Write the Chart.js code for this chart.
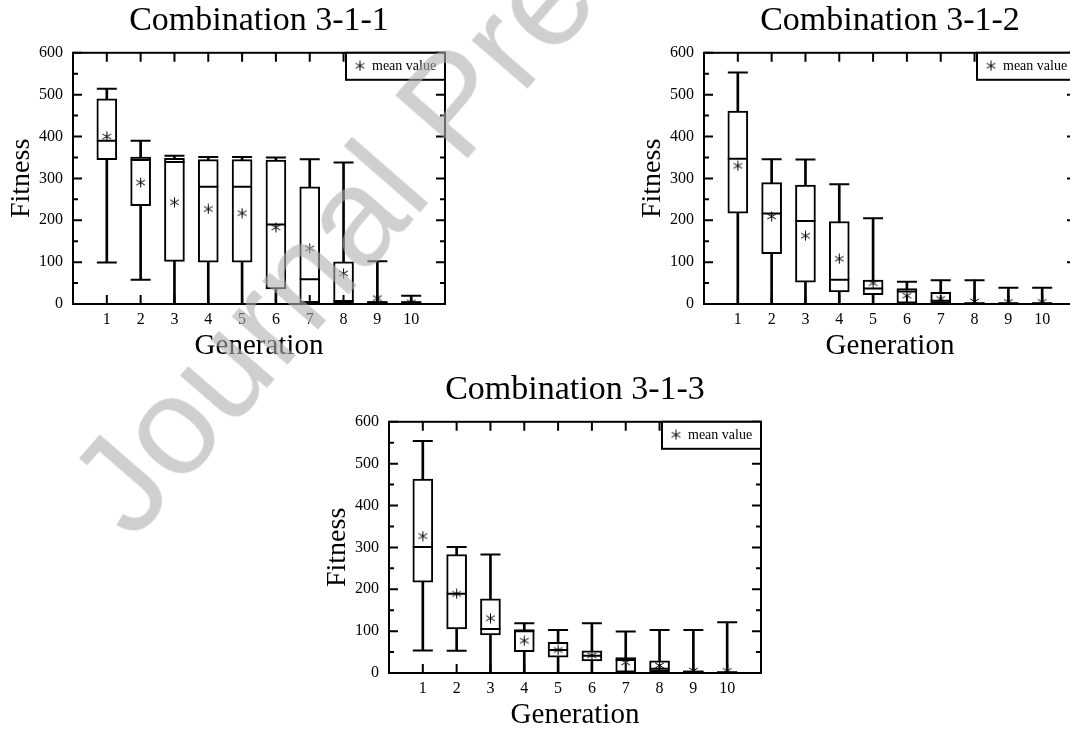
<!DOCTYPE html>
<html>
<head>
<meta charset="utf-8">
<script src="https://cdn.jsdelivr.net/npm/chart.js@4.4.1/dist/chart.umd.min.js"></script>
<style>
  html, body { margin: 0; padding: 0; background: #fff; }
  body { width: 1070px; height: 731px; position: relative; overflow: hidden; }
  canvas { position: absolute; }
  #c1 { left: 0; top: 0; }
  #c2 { left: 631px; top: 0; }
  #c3 { left: 316px; top: 369px; }
  #wm {
    position: absolute; left: 44px; top: 465px;
    font: 140px 'Liberation Sans', Arial, sans-serif; line-height: 1;
    color: rgba(175, 175, 175, 0.6); white-space: nowrap;
    transform-origin: 0 0; transform: rotate(-49deg);
    pointer-events: none;
  }
</style>
</head>
<body>
<canvas id="c1" width="460" height="365"></canvas>
<canvas id="c2" width="460" height="365"></canvas>
<canvas id="c3" width="460" height="365"></canvas>
<div id="wm">Journal Pre-proof</div>
<script>
'use strict';

const generations = [1, 2, 3, 4, 5, 6, 7, 8, 9, 10];

// Combination 3-1-1
const low1  = [99, 58, 0, 0, 0, 0, 0, 0, 0, 0];
const q1_1  = [345, 235, 102, 100, 100, 36, 3, 3, 2, 2];
const med1  = [390, 344, 339, 280, 280, 190, 59, 7, 4, 4];
const q3_1  = [490, 351, 348, 345, 345, 344, 280, 101, 6, 5];
const high1 = [514, 390, 354, 351, 351, 350, 346, 338, 102, 20];
const mean1 = [400, 290, 243, 227, 217, 183, 133, 73, 14, 4];

// Combination 3-1-2
const low2  = [0, 0, 0, 0, 0, 0, 0, 0, 0, 0];
const q1_2  = [217, 120, 52, 29, 22, 2, 2, 1, 1, 1];
const med2  = [347, 216, 198, 58, 37, 30, 8, 2, 2, 2];
const q3_2  = [461, 290, 284, 197, 57, 37, 28, 3, 3, 3];
const high2 = [553, 346, 345, 286, 205, 53, 57, 57, 39, 39];
const mean2 = [330, 209, 163, 108, 50, 20, 12, 6, 5, 5];

// Combination 3-1-3
const low3  = [54, 53, 0, 0, 0, 0, 0, 0, 0, 0];
const q1_3  = [217, 105, 91, 51, 38, 29, 2, 3, 1, 1];
const med3  = [301, 189, 105, 100, 55, 41, 31, 10, 3, 2];
const q3_3  = [463, 283, 177, 104, 73, 53, 37, 29, 5, 3];
const high3 = [554, 301, 283, 119, 103, 119, 99, 103, 103, 121];
const mean3 = [327, 189, 131, 77, 55, 42, 25, 18, 6, 5];

Chart.defaults.font.family = "'Liberation Serif', 'Times New Roman', serif";
Chart.defaults.color = '#000';

function asterisk(size) {
    const c = document.createElement('canvas');
    c.width = size;
    c.height = size;
    const g = c.getContext('2d');
    const r = size / 2 - 0.5;
    g.strokeStyle = '#000';
    g.lineWidth = 1;
    g.beginPath();
    [90, 30, 150].forEach(a => {
        const dx = Math.cos(a * Math.PI / 180) * r;
        const dy = Math.sin(a * Math.PI / 180) * r;
        g.moveTo(size / 2 - dx, size / 2 - dy);
        g.lineTo(size / 2 + dx, size / 2 + dy);
    });
    g.stroke();
    return c;
}
const star = asterisk(11);

// frame with inward ticks on all four sides, plus the legend box
const framePlugin = {
    id: 'frame',
    afterDatasetsDraw(chart) {
        const {ctx, chartArea: a, scales: {x, y}} = chart;
        ctx.save();
        ctx.strokeStyle = '#000';
        ctx.lineWidth = 2;
        ctx.beginPath();
        const yt = y.ticks.map(t => t.value);
        yt.forEach((v, i) => {
            const py = y.getPixelForValue(v);
            ctx.moveTo(a.left, py); ctx.lineTo(a.left + 9, py);
            ctx.moveTo(a.right, py); ctx.lineTo(a.right - 9, py);
            if (i < yt.length - 1) {
                const pm = y.getPixelForValue((v + yt[i + 1]) / 2);
                ctx.moveTo(a.left, pm); ctx.lineTo(a.left + 5, pm);
                ctx.moveTo(a.right, pm); ctx.lineTo(a.right - 5, pm);
            }
        });
        x.ticks.forEach(t => {
            const px = x.getPixelForValue(t.value);
            ctx.moveTo(px, a.top); ctx.lineTo(px, a.top + 9);
            ctx.moveTo(px, a.bottom); ctx.lineTo(px, a.bottom - 9);
        });
        ctx.stroke();
        ctx.strokeRect(a.left, a.top, a.width, a.height);

        const meanSet = chart.data.datasets.find(d => d.isMean);
        const lw = 99, lh = 27;
        const lx = a.right - lw, ly = a.top;
        ctx.fillStyle = '#fff';
        ctx.fillRect(lx, ly, lw, lh);
        ctx.strokeRect(lx, ly, lw, lh);
        ctx.drawImage(star, lx + 14 - star.width / 2, ly + 13 - star.height / 2);
        ctx.fillStyle = '#000';
        ctx.font = "14px 'Liberation Serif', serif";
        ctx.textBaseline = 'middle';
        ctx.fillText(meanSet.label, lx + 26, ly + 14);
        ctx.restore();
    }
};

function pts(vals) {
    return generations.map((g, i) => ({x: g, y: vals[i]}));
}

function createBoxChart(id, title, low, q1, med, q3, high, mean) {
    const ctx = document.getElementById(id).getContext('2d');
    new Chart(ctx, {
        type: 'bar',
        data: {
            datasets: [{
                label: 'whisker',
                data: generations.map((g, i) => ({x: g, y: [low[i], high[i]]})),
                backgroundColor: '#000',
                borderWidth: 0,
                barThickness: 2,
                grouped: false,
                order: 3
            }, {
                label: 'box',
                data: generations.map((g, i) => ({x: g, y: [q1[i], q3[i]]})),
                backgroundColor: '#fff',
                borderColor: '#000',
                borderWidth: 2,
                borderSkipped: false,
                barThickness: 20,
                grouped: false,
                order: 2
            }, {
                type: 'line',
                label: 'caps',
                data: pts(low).concat(pts(high)),
                showLine: false,
                pointStyle: 'line',
                pointRadius: 10,
                pointBorderWidth: 2,
                pointBorderColor: '#000',
                order: 1
            }, {
                type: 'line',
                label: 'median',
                data: pts(med),
                showLine: false,
                pointStyle: 'line',
                pointRadius: 10,
                pointBorderWidth: 2,
                pointBorderColor: '#000',
                order: 1
            }, {
                type: 'line',
                label: 'mean value',
                isMean: true,
                data: pts(mean),
                showLine: false,
                pointStyle: star,
                pointRadius: 5,
                order: 0
            }]
        },
        options: {
            responsive: false,
            animation: false,
            events: [],
            layout: {padding: {right: 15}},
            plugins: {
                legend: {display: false},
                tooltip: {enabled: false},
                title: {
                    display: true,
                    text: title,
                    fullSize: false,
                    font: {size: 34, weight: 'normal'},
                    padding: {top: 1, bottom: 11}
                }
            },
            scales: {
                x: {
                    type: 'linear',
                    min: 0,
                    max: 11,
                    offset: false,
                    grid: {display: false, drawTicks: false},
                    border: {display: false},
                    afterBuildTicks: s => { s.ticks = generations.map(v => ({value: v})); },
                    afterFit: s => { s.height = 61; },
                    ticks: {font: {size: 16}, padding: 6},
                    title: {display: true, text: 'Generation', font: {size: 29}, padding: {top: 0, bottom: 1}}
                },
                y: {
                    min: 0,
                    max: 600,
                    grid: {display: false, drawTicks: false},
                    border: {display: false},
                    afterFit: s => { s.width = 73; },
                    ticks: {stepSize: 100, font: {size: 16}, padding: 10},
                    title: {display: true, text: 'Fitness', font: {size: 28}, padding: {top: 5, bottom: 0}}
                }
            }
        },
        plugins: [framePlugin]
    });
}

createBoxChart('c1', 'Combination 3-1-1', low1, q1_1, med1, q3_1, high1, mean1);
createBoxChart('c2', 'Combination 3-1-2', low2, q1_2, med2, q3_2, high2, mean2);
createBoxChart('c3', 'Combination 3-1-3', low3, q1_3, med3, q3_3, high3, mean3);
</script>
</body>
</html>
